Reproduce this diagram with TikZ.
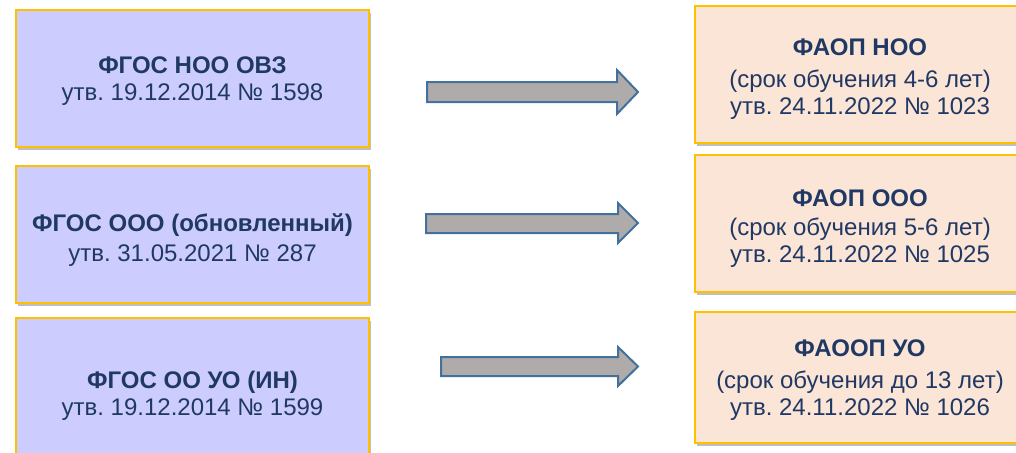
\documentclass[tikz,border=0pt]{standalone}
\usepackage{fontspec}
\setmainfont{Liberation Sans}
\usetikzlibrary{shadows}
\definecolor{leftfill}{HTML}{CCCCFF}
\definecolor{rightfill}{HTML}{FBE5D6}
\definecolor{boxborder}{HTML}{FFC000}
\definecolor{txt}{HTML}{203864}
\definecolor{arrfill}{HTML}{AFABAB}
\definecolor{arrline}{HTML}{41719C}
\tikzset{
  boxbase/.style={draw=boxborder, line width=2.6pt, rectangle, inner sep=0pt,
    drop shadow={shadow xshift=2pt, shadow yshift=-3pt, opacity=0.25, fill=black}},
  leftbox/.style={boxbase, fill=leftfill, minimum width=353pt, minimum height=137pt},
  rightbox/.style={boxbase, fill=rightfill, minimum width=330pt, minimum height=137pt},
  boxtext/.style={text=txt, align=center, inner sep=0pt, font=\frenchspacing\fontsize{24}{27}\selectfont},
  blockarrow/.style={fill=arrfill, draw=arrline, line width=2pt, line join=miter},
}
\begin{document}
\begin{tikzpicture}[x=1pt,y=-1pt]
\useasboundingbox (0,0) rectangle (1016,452);
% left boxes
\node[leftbox] (l1) at (192.5,78.5) {};
\node[leftbox] (l2) at (192.5,234.5) {};
\node[leftbox, minimum height=147pt] (l3) at (192.5,391.5) {};
\node[boxtext, yshift=-3pt] (t1) at (l1.center) {\textbf{ФГОС НОО ОВЗ}\\утв. 19.12.2014 № 1598};
\node[boxtext, yshift=-5.5pt] (t2) at (l2.center) {\textbf{ФГОС ООО (обновленный)}\\[3pt]утв. 31.05.2021 № 287};
\node[boxtext, yshift=-4pt] (t3) at (l3.center) {\textbf{ФГОС ОО УО (ИН)}\\утв. 19.12.2014 № 1599};
% right boxes
\node[rightbox] (r1) at (860,74.5) {};
\node[rightbox] (r2) at (860,223.5) {};
\node[rightbox, minimum height=131pt] (r3) at (860,377.5) {};
\node[boxtext, yshift=-5pt] (u1) at (r1.center) {\textbf{ФАОП НОО}\\[5pt](срок обучения 4-6 лет)\\утв. 24.11.2022 № 1023};
\node[boxtext, yshift=-5pt] (u2) at (r2.center) {\textbf{ФАОП ООО}\\[2pt](срок обучения 5-6 лет)\\утв. 24.11.2022 № 1025};
\node[boxtext, yshift=-3pt] (u3) at (r3.center) {\textbf{ФАООП УО}\\[5pt](срок обучения до 13 лет)\\утв. 24.11.2022 № 1026};
% block arrows
\draw[blockarrow] (427,82) -- (617,82) -- (617,70) -- (638,92) -- (617,114) -- (617,102) -- (427,102) -- cycle;
\draw[blockarrow] (426,214) -- (618,214) -- (618,203) -- (638,223) -- (618,243) -- (618,233) -- (426,233) -- cycle;
\draw[blockarrow] (441,357) -- (618,357) -- (618,347) -- (638,366.5) -- (618,386) -- (618,376) -- (441,376) -- cycle;
\end{tikzpicture}
\end{document}
